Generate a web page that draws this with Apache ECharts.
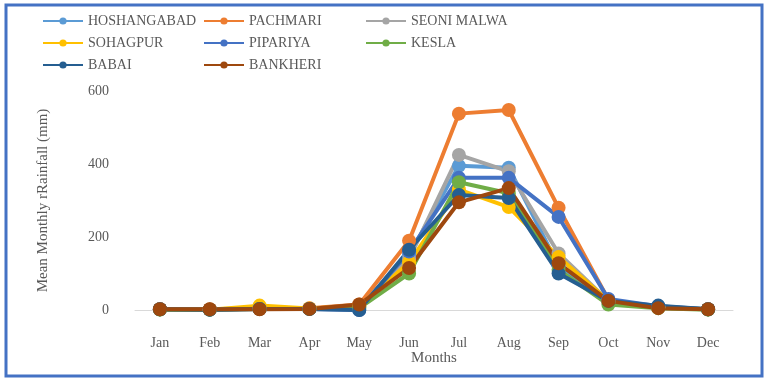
<!DOCTYPE html>
<html><head><meta charset="utf-8">
<script src="https://cdn.jsdelivr.net/npm/echarts@6/dist/echarts.min.js"></script>
<style>html,body{margin:0;padding:0;background:#fff}#c{width:768px;height:381px}</style>
</head><body><div id="c"></div>
<script>
const months = ['Jan','Feb','Mar','Apr','May','Jun','Jul','Aug','Sep','Oct','Nov','Dec'];
const seriesNames = ['HOSHANGABAD','PACHMARI','SEONI MALWA','SOHAGPUR','PIPARIYA','KESLA','BABAI','BANKHERI'];
const hoshangabad = [2, 1, 4, 3, 8, 150, 395, 390, 120, 25, 8, 2];
const pachmari    = [3, 2, 5, 5, 15, 190, 538, 548, 280, 28, 6, 2];
const seoniMalwa  = [2, 1, 4, 3, 8, 140, 425, 380, 155, 25, 8, 2];
const sohagpur    = [2, 1, 12, 4, 10, 130, 330, 282, 145, 25, 8, 2];
const pipariya    = [2, 1, 3, 3, 0, 160, 362, 362, 255, 30, 10, 2];
const kesla       = [1, 1, 3, 3, 5, 100, 350, 320, 110, 15, 5, 1];
const babai       = [2, 1, 3, 3, 0, 165, 315, 307, 100, 25, 12, 2];
const bankheri    = [2, 2, 2, 3, 15, 115, 295, 334, 128, 25, 5, 2];
const yTicks = [0, 200, 400, 600];

const dataList = [hoshangabad, pachmari, seoniMalwa, sohagpur, pipariya, kesla, babai, bankheri];
const colors = ['#5B9BD5','#ED7D31','#A5A5A5','#FFC000','#4472C4','#70AD47','#255E91','#9E480E'];
const font = '"Liberation Serif","DejaVu Serif",serif';

const chart = echarts.init(document.getElementById('c'));
const legendBase = {orient:'vertical', top:9, itemWidth:40, itemHeight:9, itemGap:8,
  textStyle:{fontFamily:font, fontSize:14, color:'#595959'}};
chart.setOption({
  animation:false,
  color: colors,
  graphic:[{type:'rect', shape:{x:6,y:5,width:756,height:371}, style:{fill:'none', stroke:'#4472C4', lineWidth:3}}],
  legend:[
    Object.assign({}, legendBase, {left:37, data:[seriesNames[0], seriesNames[3], seriesNames[6]]}),
    Object.assign({}, legendBase, {left:198, data:[seriesNames[1], seriesNames[4], seriesNames[7]]}),
    Object.assign({}, legendBase, {left:360, data:[seriesNames[2], seriesNames[5]]})
  ],
  grid:{left:135, right:35, top:91, bottom:71},
  xAxis:{type:'category', data:months, boundaryGap:true,
    name:'Months', nameLocation:'middle', nameGap:41, nameMoveOverlap:false,
    nameTextStyle:{fontFamily:font, fontSize:15, color:'#595959'},
    axisLine:{lineStyle:{color:'#D9D9D9', width:1}}, axisTick:{show:false},
    axisLabel:{fontFamily:font, fontSize:14, color:'#595959', margin:26}},
  yAxis:{type:'value', min:yTicks[0], max:yTicks[yTicks.length-1], interval:200,
    name:'Mean Monthly rRainfall (mm)', nameLocation:'middle', nameGap:84, nameRotate:90,
    nameTextStyle:{fontFamily:font, fontSize:15, color:'#595959'},
    splitLine:{show:false}, axisLine:{show:false}, axisTick:{show:false},
    axisLabel:{fontFamily:font, fontSize:14, color:'#595959', margin:26}},
  series: seriesNames.map((n,i)=>({
    name:n, type:'line', data:dataList[i], symbol:'circle', symbolSize:14,
    lineStyle:{width:4, color:colors[i]}, itemStyle:{color:colors[i]}
  }))
});
</script></body></html>
